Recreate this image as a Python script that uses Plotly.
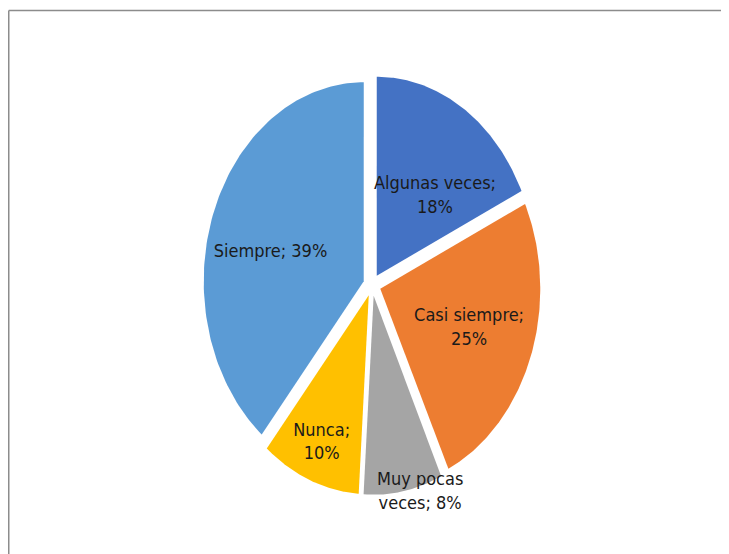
import numpy as np
import plotly.graph_objects as go

# ---- data ----
categories = ["Algunas veces", "Casi siempre", "Muy pocas veces", "Nunca", "Siempre"]
values = [18, 25, 8, 10, 39]
label_text = ["Algunas veces;<br>18%", "Casi siempre;<br>25%", "Muy pocas<br>veces; 8%",
              "Nunca;<br>10%", "Siempre; 39%"]

# ---- style ----
colors = ["#4472C4", "#ED7D31", "#A5A5A5", "#FFC000", "#5B9BD5"]
PULL = 0.055
LABEL_R = [0.54, 0.59, 1.03, 0.80, 0.60]
LABEL_DA = [10, 0, -5.6, 0, -6]
FONT = "DejaVu Sans Condensed, Liberation Sans Narrow, Arial Narrow, sans-serif"

W, H = 729, 554
OFF = 8                      # page body margin
CX, CY = 372 - OFF, 285 - OFF  # pie centre (px, figure coords)
A, B = 160, 199              # semi-axes (px)

fig = go.Figure()
total = float(sum(values))
start = 0.0
lx, ly = [], []
for i, v in enumerate(values):
    frac0 = start / total
    frac1 = (start + v) / total
    start += v
    t = np.linspace(frac0, frac1, 120) * 2 * np.pi
    mid = (frac0 + frac1) / 2 * 2 * np.pi
    ox, oy = PULL * np.sin(mid), PULL * np.cos(mid)
    xs = np.concatenate([[ox], ox + np.sin(t), [ox]])
    ys = np.concatenate([[oy], oy + np.cos(t), [oy]])
    fig.add_trace(go.Scatter(x=xs, y=ys, fill="toself", mode="lines",
                             line=dict(width=0, color=colors[i]),
                             fillcolor=colors[i], name=categories[i],
                             hoverinfo="skip", showlegend=False))
    la = mid + np.deg2rad(LABEL_DA[i])
    lx.append(ox + LABEL_R[i] * np.sin(la))
    ly.append(oy + LABEL_R[i] * np.cos(la))

fig.add_trace(go.Scatter(x=lx, y=ly, mode="text", text=label_text,
                         textposition="middle center",
                         textfont=dict(family=FONT, size=18, color="#1a1a1a"),
                         hoverinfo="skip", showlegend=False))

fig.update_layout(
    width=W, height=H,
    margin=dict(l=0, r=0, t=0, b=0),
    paper_bgcolor="white", plot_bgcolor="white",
    xaxis=dict(range=[-CX / A, (W - CX) / A], visible=False, fixedrange=True),
    yaxis=dict(range=[-(H - CY) / B, CY / B], visible=False, fixedrange=True),
    shapes=[
        dict(type="line", xref="paper", yref="paper", x0=0.75 / W, x1=1, y0=1 - 2.5 / H, y1=1 - 2.5 / H,
             line=dict(color="#8c8c8c", width=1.5)),
        dict(type="line", xref="paper", yref="paper", x0=0.75 / W, x1=0.75 / W, y0=0, y1=1 - 2.5 / H,
             line=dict(color="#8c8c8c", width=1.5)),
    ],
)

fig.write_html("out.html")
